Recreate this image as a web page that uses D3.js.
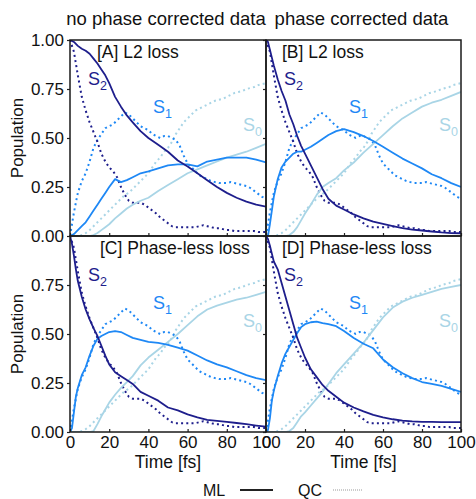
<!DOCTYPE html>
<html><head><meta charset="utf-8">
<script src="https://cdn.jsdelivr.net/npm/d3@7/dist/d3.min.js"></script>
<style>
body{margin:0;background:#fff}
svg{display:block;font-family:"Liberation Sans",Arial,Helvetica,sans-serif}
</style>
</head><body>
<svg id="chart" width="476" height="499"></svg>
<script>
// ---------------- DATA ----------------
const timesQC = [0,2,4,6,8,10,12,14,16,18,20,22,24,26,28,30,32,34,36,38,40,42,44,46,48,50,52,54,56,58,60,62,64,66,68,70,72,74,76,78,80,82,84,86,88,90,92,94,96,98,100];
const qcS2 = [1.00,0.94,0.82,0.71,0.64,0.58,0.53,0.48,0.42,0.38,0.35,0.33,0.30,0.25,0.21,0.18,0.17,0.17,0.17,0.16,0.145,0.13,0.115,0.095,0.08,0.065,0.05,0.045,0.045,0.045,0.045,0.045,0.045,0.05,0.055,0.05,0.045,0.04,0.04,0.035,0.03,0.03,0.025,0.025,0.025,0.025,0.025,0.025,0.02,0.02,0.02];
const qcS1 = [0.00,0.12,0.22,0.28,0.32,0.38,0.45,0.49,0.52,0.55,0.56,0.57,0.59,0.61,0.63,0.62,0.60,0.58,0.56,0.55,0.54,0.52,0.51,0.50,0.51,0.51,0.50,0.49,0.46,0.41,0.37,0.35,0.33,0.31,0.30,0.29,0.28,0.275,0.27,0.27,0.27,0.275,0.27,0.265,0.26,0.255,0.245,0.23,0.215,0.20,0.19];
const qcS0 = [0.00,0.00,0.00,0.005,0.015,0.03,0.05,0.07,0.09,0.11,0.13,0.15,0.17,0.19,0.21,0.22,0.24,0.26,0.28,0.30,0.32,0.35,0.38,0.40,0.43,0.45,0.48,0.52,0.55,0.58,0.60,0.62,0.64,0.65,0.66,0.67,0.68,0.69,0.695,0.70,0.71,0.72,0.73,0.735,0.74,0.75,0.755,0.76,0.77,0.775,0.78];

const timesML = [0,1,2,3,4,6,8,10,12,14,16,18,20,23,26,29,32,36,40,45,50,55,60,65,70,75,80,85,90,95,100];
// Panel A: no phase corrected data, L2 loss
const mlA_S2 = [1.0,0.995,0.99,0.98,0.97,0.955,0.945,0.93,0.905,0.88,0.85,0.82,0.78,0.71,0.66,0.615,0.58,0.535,0.50,0.465,0.43,0.385,0.355,0.32,0.285,0.25,0.22,0.195,0.175,0.16,0.15];
const mlA_S1 = [0,0.005,0.01,0.02,0.03,0.05,0.07,0.10,0.13,0.16,0.19,0.22,0.25,0.29,0.275,0.285,0.30,0.32,0.33,0.345,0.36,0.365,0.365,0.355,0.38,0.39,0.40,0.40,0.40,0.39,0.375];
const mlA_S0 = [0,0,0,0,0,0,0,0,0.005,0.015,0.03,0.045,0.06,0.09,0.115,0.14,0.16,0.18,0.195,0.23,0.26,0.29,0.32,0.34,0.36,0.38,0.40,0.415,0.43,0.45,0.47];
// Panel B: phase corrected data, L2 loss
const mlB_S2 = [1.0,0.99,0.95,0.91,0.87,0.80,0.74,0.69,0.62,0.57,0.51,0.46,0.42,0.36,0.30,0.24,0.19,0.155,0.135,0.11,0.09,0.073,0.062,0.05,0.04,0.033,0.028,0.023,0.018,0.015,0.014];
const mlB_S1 = [0,0,0.06,0.13,0.20,0.29,0.35,0.38,0.40,0.42,0.43,0.43,0.44,0.455,0.475,0.495,0.515,0.535,0.545,0.53,0.51,0.485,0.455,0.425,0.395,0.37,0.345,0.315,0.295,0.27,0.25];
const mlB_S0 = [0,0,0,0,0,0,0,0,0.005,0.02,0.045,0.08,0.115,0.16,0.21,0.25,0.27,0.295,0.335,0.375,0.425,0.47,0.515,0.56,0.60,0.63,0.66,0.68,0.695,0.715,0.735];
// Panel C: no phase corrected data, phase-less loss
const mlC_S2 = [1.0,0.96,0.90,0.83,0.77,0.69,0.625,0.575,0.53,0.49,0.44,0.39,0.345,0.305,0.285,0.265,0.245,0.205,0.185,0.16,0.125,0.11,0.09,0.075,0.062,0.057,0.052,0.046,0.04,0.033,0.027];
const mlC_S1 = [0,0.02,0.10,0.18,0.225,0.29,0.33,0.39,0.44,0.475,0.49,0.50,0.51,0.515,0.51,0.495,0.48,0.47,0.46,0.455,0.445,0.43,0.415,0.39,0.365,0.345,0.33,0.31,0.29,0.275,0.265];
const mlC_S0 = [0,0,0,0,0,0,0,0,0.005,0.04,0.08,0.115,0.15,0.19,0.225,0.255,0.285,0.34,0.38,0.42,0.46,0.50,0.545,0.59,0.625,0.645,0.66,0.675,0.685,0.70,0.715];
// Panel D: phase corrected data, phase-less loss
const mlD_S2 = [1.0,0.985,0.95,0.91,0.87,0.83,0.76,0.69,0.62,0.55,0.48,0.43,0.38,0.32,0.28,0.24,0.21,0.18,0.15,0.125,0.105,0.087,0.075,0.065,0.058,0.054,0.052,0.052,0.05,0.05,0.05];
const mlD_S1 = [0,0.01,0.07,0.16,0.21,0.285,0.35,0.40,0.435,0.47,0.505,0.535,0.55,0.56,0.563,0.555,0.55,0.54,0.515,0.48,0.45,0.427,0.37,0.33,0.30,0.275,0.255,0.245,0.235,0.22,0.205];
const mlD_S0 = [0,0,0,0,0,0,0,0,0.005,0.02,0.05,0.08,0.10,0.135,0.17,0.205,0.245,0.30,0.345,0.40,0.455,0.52,0.585,0.635,0.665,0.685,0.70,0.715,0.73,0.74,0.75];

const colTitles = ["no phase corrected data", "phase corrected data"];
const panelTitles = ["[A] L2 loss", "[B] L2 loss", "[C] Phase-less loss", "[D] Phase-less loss"];
const stateNames = ["S2", "S1", "S0"];
const xTicks = [0,20,40,60,80,100];
const yTicks = [0,0.25,0.5,0.75,1];
const legendLabels = ["ML", "QC"];

// ---------------- LAYOUT ----------------
const colors = {S2:"#1e1e8c", S1:"#1e88f5", S0:"#a9d5e6"};
const colX = [[70,266],[266,461]];
const rowY = [[236,40],[432,236]];
const mlSets = [
  {S2:mlA_S2,S1:mlA_S1,S0:mlA_S0},
  {S2:mlB_S2,S1:mlB_S1,S0:mlB_S0},
  {S2:mlC_S2,S1:mlC_S1,S0:mlC_S0},
  {S2:mlD_S2,S1:mlD_S1,S0:mlD_S0}
];
const qcSet = {S2:qcS2,S1:qcS1,S0:qcS0};
const titleDx = [27,16,30,16];
const labelPos = {S2:[18,45], S1:[83,73], S0:[173,91]};
const FS = 17;

const svg = d3.select("#chart");

colTitles.forEach((t,i)=>{
  svg.append("text").attr("x",(colX[i][0]+colX[i][1])/2 - 2).attr("y",25)
    .attr("text-anchor","middle").attr("font-size",18.5).attr("fill","#111").text(t);
});

for (let p=0;p<4;p++){
  const c = p%2, r = Math.floor(p/2);
  const x = d3.scaleLinear().domain([0,100]).range(colX[c]);
  const y = d3.scaleLinear().domain([0,1]).range(rowY[r]);
  const g = svg.append("g");
  const clipId = "clip"+p;
  g.append("clipPath").attr("id",clipId).append("rect")
    .attr("x",colX[c][0]).attr("y",rowY[r][1]).attr("width",colX[c][1]-colX[c][0]).attr("height",rowY[r][0]-rowY[r][1]);
  const plot = g.append("g").attr("clip-path",`url(#${clipId})`);

  const lineML = d3.line().x((d,i)=>x(timesML[i])).y(d=>y(d));
  const lineQC = d3.line().x((d,i)=>x(timesQC[i])).y(d=>y(d));

  ["S0","S1","S2"].forEach(s=>{
    plot.append("path").datum(qcSet[s]).attr("d",lineQC)
      .attr("fill","none").attr("stroke",colors[s]).attr("stroke-width",2)
      .attr("stroke-dasharray","2,3.2");
  });
  ["S0","S1","S2"].forEach(s=>{
    plot.append("path").datum(mlSets[p][s]).attr("d",lineML)
      .attr("fill","none").attr("stroke",colors[s]).attr("stroke-width",1.8)
      .attr("stroke-linejoin","round");
  });

  // axes
  const xAxis = d3.axisBottom(x).tickValues(xTicks).tickSizeInner(-3).tickSizeOuter(0).tickPadding(4);
  if (r===0) xAxis.tickFormat("");
  const gx = g.append("g").attr("transform",`translate(0,${rowY[r][0]})`).call(xAxis);
  const yAxis = d3.axisLeft(y).tickValues(r===1 ? yTicks.slice(0,4) : yTicks).tickSizeInner(3).tickSizeOuter(0).tickPadding(3).tickFormat(d3.format(".2f"));
  if (c===1) yAxis.tickFormat("");
  const gy = g.append("g").attr("transform",`translate(${colX[c][0]},0)`).call(yAxis);
  [gx,gy].forEach(a=>{
    a.select(".domain").remove();
    a.selectAll("line").attr("stroke","#222").attr("stroke-width",1.2);
    a.selectAll("text").attr("font-size",FS).attr("fill","#111").attr("font-family",'"Liberation Sans",Arial,sans-serif');
  });

  // frame
  g.append("rect").attr("x",colX[c][0]).attr("y",rowY[r][1])
    .attr("width",colX[c][1]-colX[c][0]).attr("height",rowY[r][0]-rowY[r][1])
    .attr("fill","none").attr("stroke","#1a1a1a").attr("stroke-width",1.5);

  // panel title
  g.append("text").attr("x",colX[c][0]+titleDx[p]).attr("y",rowY[r][1]+18)
    .attr("font-size",17.5).attr("fill","#111").text(panelTitles[p]);

  // state labels
  stateNames.forEach(s=>{
    const t = g.append("text").attr("x",colX[c][0]+labelPos[s][0]).attr("y",rowY[r][1]+labelPos[s][1])
      .attr("font-size",18).attr("fill",colors[s]);
    t.append("tspan").text(s[0]);
    t.append("tspan").attr("font-size",12.5).attr("dy",5).text(s[1]);
  });

  if (r===1){
    g.append("text").attr("x",(colX[c][0]+colX[c][1])/2).attr("y",468)
      .attr("text-anchor","middle").attr("font-size",17.5).attr("fill","#111").text("Time [fs]");
  }
  if (c===0){
    g.append("text").attr("transform",`translate(23,${(rowY[r][0]+rowY[r][1])/2}) rotate(-90)`)
      .attr("text-anchor","middle").attr("font-size",FS).attr("fill","#111").text("Population");
  }
}

// legend
svg.append("text").attr("x",203).attr("y",496).attr("font-size",16).attr("fill","#111").text(legendLabels[0]);
svg.append("line").attr("x1",240).attr("x2",273).attr("y1",490).attr("y2",490).attr("stroke","#222").attr("stroke-width",2);
svg.append("text").attr("x",298).attr("y",496).attr("font-size",16).attr("fill","#111").text(legendLabels[1]);
svg.append("line").attr("x1",333).attr("x2",363).attr("y1",490).attr("y2",490).attr("stroke","#999").attr("stroke-width",1).attr("stroke-dasharray","1,1");
</script>
</body></html>
